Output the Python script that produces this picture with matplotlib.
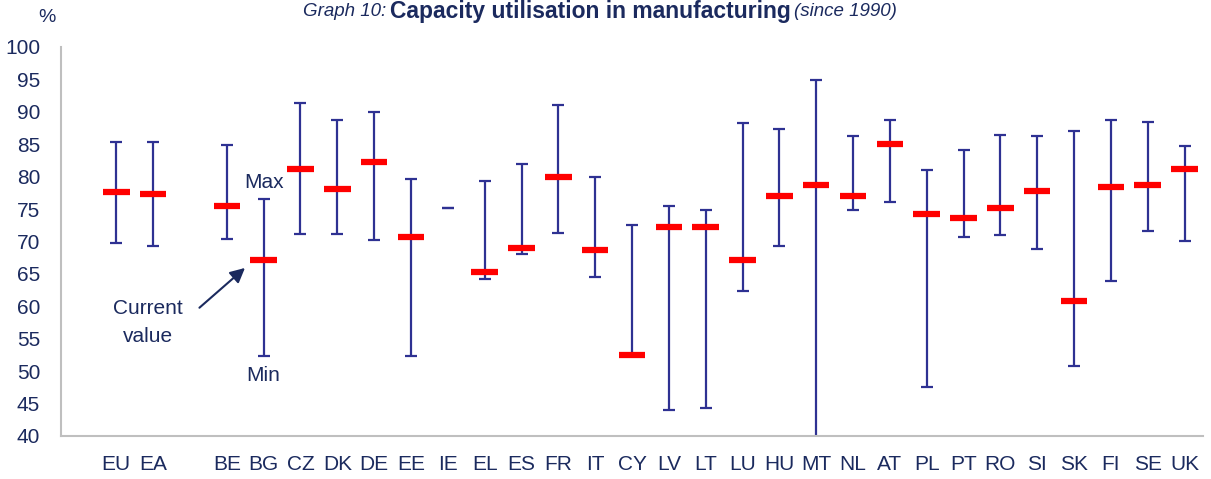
import numpy as np
import matplotlib
matplotlib.use('Agg')
import matplotlib.pyplot as plt
from matplotlib import font_manager

# 数据
countries = ['', 'EU', 'EA', '', 'BE', 'BG', 'CZ', 'DK', 'DE', 'EE', 'IE', 'EL', 'ES', 'FR', 'IT',
             'CY', 'LV', 'LT', 'LU', 'HU', 'MT', 'NL', 'AT', 'PL', 'PT', 'RO', 'SI', 'SK',
             'FI', 'SE', 'UK']
max_vals = [np.nan, 85.3, 85.3, np.nan, 84.9, 76.6, 91.3, 88.8, 90.0, 79.6, 75.2, 79.3, 82.0, 91.0, 79.9,
            72.5, 75.5, 74.9, 88.3, 87.4, 94.9, 86.2, 88.8, 81.1, 84.1, 86.5, 86.2, 87.1,
            88.8, 88.5, 84.7]
min_vals = [np.nan, 69.8, 69.3, np.nan, 70.4, 52.3, 71.1, 71.1, 70.2, 52.3, 75.2, 64.2, 68.0, 71.3, 64.5,
            52.5, 44.0, 44.3, 62.4, 69.3, 35.0, 74.9, 76.1, 47.5, 70.7, 71.0, 68.9, 50.8,
            63.9, 71.6, 70.1]
current = [np.nan, 77.6, 77.3, np.nan, 75.5, 67.2, 81.2, 78.1, 82.3, 70.7, np.nan, 65.3, 69.0, 80.0, 68.7,
           52.5, 72.3, 72.3, 67.2, 77.0, 78.7, 77.0, 85.0, 74.3, 73.6, 75.2, 77.8, 60.8,
           78.4, 78.7, 81.2]

NAVY = '#1B2A5E'
BLUE = '#2E3192'
RED = '#FF0000'

installed = {f.name for f in font_manager.fontManager.ttflist}
FONT = 'Liberation Sans Narrow' if 'Liberation Sans Narrow' in installed else 'Liberation Sans'
plt.rcParams['font.family'] = [FONT, 'DejaVu Sans']

fig = plt.figure(figsize=(12.11, 4.79), dpi=100)
ax = fig.add_axes([0.0504, 0.0898, 0.943, 0.8121])

x = np.arange(len(countries))
mx = np.array(max_vals)
mn = np.array(min_vals)
mid = (mx + mn) / 2
ax.errorbar(x, mid, yerr=(mx - mn) / 2, fmt='none', ecolor=BLUE, elinewidth=1.6,
            capsize=4, capthick=1.6, zorder=2)
ax.hlines(current, x - 0.36, x + 0.36, colors=RED, linewidth=4.5, zorder=3)

ax.set_xlim(-0.5, len(countries) - 0.5)
ax.set_ylim(40, 100)
ax.set_yticks(np.arange(40, 101, 5))
ax.set_xticks(x)
ax.set_xticklabels(countries)
ax.tick_params(axis='both', length=0, labelsize=15, colors=NAVY)
ax.tick_params(axis='y', pad=15)
ax.tick_params(axis='x', pad=14)
for s in ['top', 'right']:
    ax.spines[s].set_visible(False)
for s in ['left', 'bottom']:
    ax.spines[s].set_color('#BFBFBF')
    ax.spines[s].set_linewidth(1.5)

ax.text(-0.012, 1.075, '%', transform=ax.transAxes, ha='center', va='center',
        fontsize=14, color=NAVY)

# 注释
ax.text(5.0, 79.1, 'Max', ha='center', va='center', fontsize=15, color=NAVY)
ax.text(5.0, 49.4, 'Min', ha='center', va='center', fontsize=15, color=NAVY)
ax.text(1.85, 57.5, 'Current\nvalue', ha='center', va='center', fontsize=15,
        color=NAVY, linespacing=1.6)
ax.annotate('', xy=(4.55, 66.2), xytext=(3.2, 59.5),
            arrowprops=dict(arrowstyle='-|>', color=NAVY, lw=1.5, mutation_scale=22))

# 标题
fig.canvas.draw()
r = fig.canvas.get_renderer()
tb = fig.text(0.4875, 0.975, 'Capacity utilisation in manufacturing', ha='center', va='center',
              fontsize=16.5, fontweight='bold', color=NAVY)
bb = tb.get_window_extent(r)
inv = fig.transFigure.inverted()
x0 = inv.transform((bb.x0, 0))[0]
x1 = inv.transform((bb.x1, 0))[0]
fig.text(x0 - 0.003, 0.975, 'Graph 10:', ha='right', va='center', fontsize=13.5,
         style='italic', color=NAVY)
fig.text(x1 + 0.003, 0.975, '(since 1990)', ha='left', va='center', fontsize=13.5,
         style='italic', color=NAVY)

fig.savefig('out.png', dpi=100)
